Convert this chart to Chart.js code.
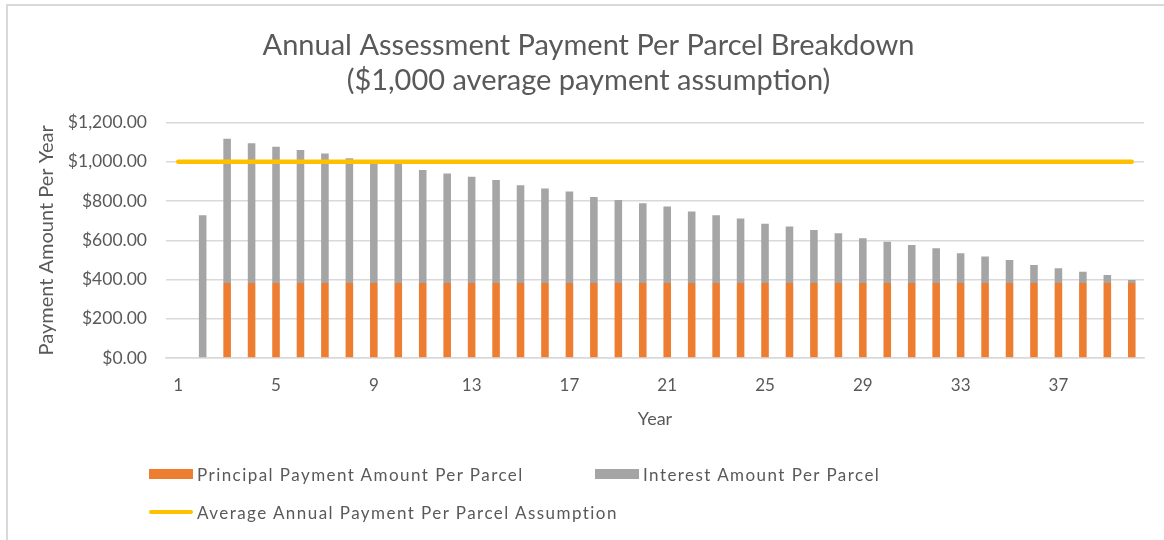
<!DOCTYPE html>
<html lang="en">
<head>
<meta charset="UTF-8">
<title>Annual Assessment Payment Per Parcel Breakdown</title>
<script src="https://cdn.jsdelivr.net/npm/chart.js@4.4.1/dist/chart.umd.min.js"></script>
<style>
  body { margin: 0; background: #fff; font-family: Lato, sans-serif; }
  #wrap { position: relative; width: 1164px; height: 540px; overflow: hidden; }
  #frame { position: absolute; left: 6px; top: 4px; width: 1200px; height: 600px; border: 2px solid #d9d9d9; box-sizing: border-box; }
  #chart { position: absolute; left: 0; top: 0; }
  .leg { position: absolute; display: flex; align-items: center; font-size: 17px; color: #595959; letter-spacing: 1.45px; white-space: nowrap; }
  .sw { display: inline-block; margin-right: 4px; }
</style>
</head>
<body>
<div id="wrap">
  <div id="frame"></div>
  <canvas id="chart" width="1164" height="540"></canvas>
  <div id="legend"></div>
</div>
<script>
// years 1..40
const years = [];
for (let i = 1; i <= 40; i++) years.push(String(i));

// principal per parcel (none in years 1-2)
const principal = [0, 0, 382, 382, 382, 382, 382, 382, 382, 382,
  382, 382, 382, 382, 382, 382, 382, 382, 382, 382,
  382, 382, 382, 382, 382, 382, 382, 382, 382, 382,
  382, 382, 382, 382, 382, 382, 382, 382, 382, 382];

// interest per parcel
const interest = [0, 728, 736, 713, 695, 678, 661, 636, 620, 608,
  576, 559, 542, 525, 499, 482, 467, 439, 423, 407,
  390, 365, 346, 329, 303, 288, 271, 254, 228, 211,
  194, 177, 152, 135, 117, 92, 75, 58, 41, 15];

const avgPayment = years.map(() => 1000);

const labelNames = [
  'Principal Payment Amount Per Parcel',
  'Interest Amount Per Parcel',
  'Average Annual Payment Per Parcel Assumption'
];
const colors = ['#ED7D31', '#A5A5A5', '#FFC000'];

const ctx = document.getElementById('chart').getContext('2d');
const chart = new Chart(ctx, {
  type: 'bar',
  data: {
    labels: years,
    datasets: [
      {
        label: labelNames[0], data: principal, backgroundColor: colors[0],
        stack: 's', order: 2, barPercentage: 0.31, categoryPercentage: 1
      },
      {
        label: labelNames[1], data: interest, backgroundColor: colors[1],
        stack: 's', order: 2, barPercentage: 0.31, categoryPercentage: 1
      },
      {
        type: 'line', label: labelNames[2], data: avgPayment, borderColor: colors[2],
        borderWidth: 4.5, borderCapStyle: 'round', pointRadius: 0, order: 1
      }
    ]
  },
  options: {
    responsive: false,
    animation: false,
    layout: { padding: { left: 33, right: 20, top: 0, bottom: 106 } },
    plugins: {
      legend: { display: false },
      tooltip: { enabled: false },
      title: {
        display: true,
        text: ['Annual Assessment Payment Per Parcel Breakdown', '($1,000 average payment assumption)'],
        color: '#595959',
        font: { family: 'Lato', size: 29, weight: 'normal', lineHeight: 1.2 },
        padding: { top: 28, bottom: 25 }
      }
    },
    scales: {
      x: {
        stacked: true,
        grid: { display: false, drawTicks: false },
        border: { color: '#d9d9d9', width: 1.5 },
        ticks: {
          color: '#595959', font: { family: 'Lato', size: 17 },
          autoSkip: false, maxRotation: 0, padding: 17,
          callback: function (v, i) { return i % 4 === 0 ? this.getLabelForValue(v) : ''; }
        },
        title: { display: true, text: 'Year', color: '#595959', font: { family: 'Lato', size: 18 }, padding: { top: 10 } },
        afterFit: s => { s.height = 76; }
      },
      y: {
        stacked: true,
        min: 0, max: 1200,
        grid: { color: '#d9d9d9', lineWidth: 1.5, drawTicks: false },
        border: { display: false },
        ticks: {
          stepSize: 200, color: '#595959', font: { family: 'Lato', size: 17.5 }, padding: 19,
          callback: v => '$' + v.toLocaleString('en-US', { minimumFractionDigits: 2, maximumFractionDigits: 2 })
        },
        title: { display: true, text: 'Payment Amount Per Year', color: '#595959', font: { family: 'Lato', size: 20 }, padding: 2 },
        afterFit: s => { s.width = 133; }
      }
    }
  }
});

// legend in the Excel layout: two entries on the first row, the line below
const legendPos = [[149, 474], [595, 474], [149, 512]];
const legend = document.getElementById('legend');
chart.data.datasets.forEach((ds, i) => {
  const item = document.createElement('div');
  item.className = 'leg';
  item.style.left = legendPos[i][0] + 'px';
  item.style.top = (legendPos[i][1] - 11) + 'px';
  item.style.height = '22px';
  const sw = document.createElement('span');
  sw.className = 'sw';
  if (ds.type === 'line') {
    sw.style.width = '44px'; sw.style.height = '4px';
    sw.style.borderRadius = '2px'; sw.style.background = ds.borderColor;
  } else {
    sw.style.width = '44px'; sw.style.height = '10px';
    sw.style.background = ds.backgroundColor;
  }
  item.appendChild(sw);
  item.appendChild(document.createTextNode(ds.label));
  legend.appendChild(item);
});
</script>
</body>
</html>
